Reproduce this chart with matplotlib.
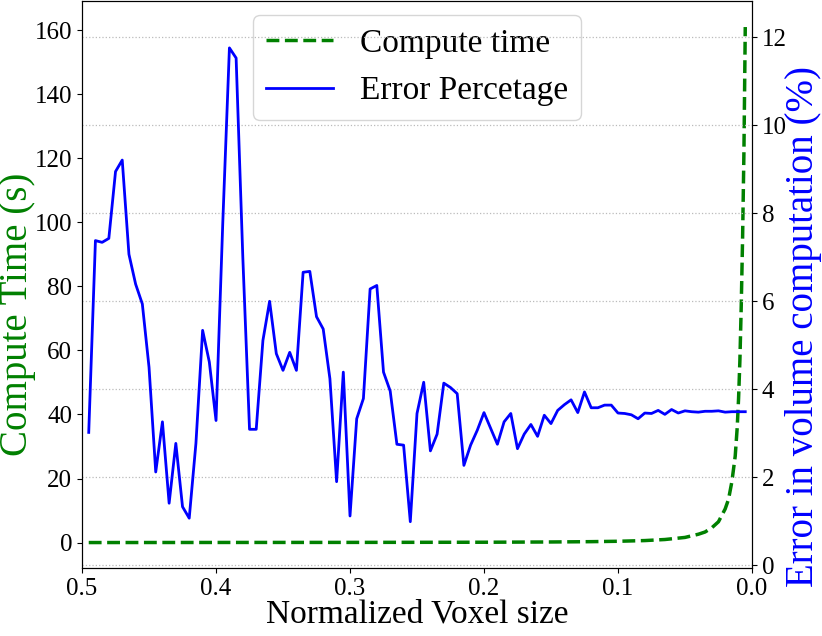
import matplotlib
matplotlib.use("Agg")
import matplotlib.pyplot as plt
import numpy as np

plt.rcParams['font.family'] = ['Liberation Serif', 'DejaVu Serif']

# normalized voxel size for the error series (0.495 -> 0.005)
voxel_size = np.round(np.arange(0.495, 0.0049, -0.005), 3)

error_pct = [
    3.02, 7.38, 7.34, 7.43, 8.95, 9.21, 7.07, 6.39, 5.94, 4.50,
    2.12, 3.26, 1.41, 2.77, 1.33, 1.07, 2.77, 5.34, 4.62, 3.29,
    7.75, 11.76, 11.53, 7.00, 3.09, 3.09, 5.11, 6.00, 4.81, 4.43,
    4.84, 4.43, 6.66, 6.68, 5.65, 5.37, 4.24, 1.90, 4.39, 1.12,
    3.33, 3.79, 6.28, 6.36, 4.39, 3.96, 2.75, 2.73, 0.99, 3.45,
    4.16, 2.60, 2.98, 4.14, 4.04, 3.90, 2.27, 2.73, 3.07, 3.47,
    3.11, 2.75, 3.26, 3.45, 2.65, 2.98, 3.20, 2.93, 3.41, 3.22,
    3.52, 3.65, 3.76, 3.47, 3.94, 3.58, 3.58, 3.64, 3.64, 3.46,
    3.45, 3.42, 3.33, 3.46, 3.45, 3.52, 3.43, 3.54, 3.46, 3.51,
    3.49, 3.48, 3.50, 3.50, 3.51, 3.48, 3.49, 3.49, 3.49,
]

# compute time readings (s)
time_x = [0.495, 0.4, 0.3, 0.2, 0.15, 0.12, 0.1, 0.08, 0.065, 0.05,
          0.04, 0.035, 0.03, 0.025, 0.02, 0.0175, 0.015, 0.0125, 0.011,
          0.01, 0.009, 0.008, 0.007, 0.006, 0.005]
time_s = [0.0, 0.03, 0.05, 0.1, 0.18, 0.28, 0.4, 0.62, 0.95, 1.6,
          2.6, 3.3, 4.6, 6.5, 10.5, 13.5, 19.0, 27.0, 36.0,
          45.0, 57.0, 74.0, 95.0, 122.0, 161.0]

fig, ax = plt.subplots(figsize=(8.22, 6.36), dpi=100)
fig.subplots_adjust(left=0.0998, right=0.9148, bottom=0.1064, top=0.998)
ax2 = ax.twinx()

l1, = ax.plot(time_x, time_s, color='green', linestyle='--', lw=2.5, label='Compute time')
l2, = ax2.plot(voxel_size, error_pct, color='blue', lw=2, label='Error Percetage')

ax.set_xlim(0.5, 0.0)
ax.set_xticks([0.5, 0.4, 0.3, 0.2, 0.1, 0.0])
ax.set_ylim(-8.05, 169.05)
ax.set_yticks(range(0, 161, 20))
ax2.set_ylim(-0.07, 12.82)
ax2.set_yticks(range(0, 13, 2))
ax2.grid(axis='y', color='#bbbbbb', linestyle=':', lw=0.9)

ax.tick_params(labelsize=18)
ax2.tick_params(labelsize=18)
ax.set_xlabel('Normalized Voxel size', fontsize=24, labelpad=-1)
ax.set_ylabel('Compute Time (s)', fontsize=28, color='green', va='center')
ax.yaxis.set_label_coords(-0.097, 0.4475)
ax2.set_ylabel('Error in volume computation (%)', fontsize=28, color='blue', va='center')
ax2.yaxis.set_label_coords(1.0765, 0.4264)

ax.legend([l1, l2], ['Compute time', 'Error Percetage'], loc='upper center',
          fontsize=24, handlelength=2.0, borderaxespad=0.42)

fig.savefig('out.png', dpi=100)
